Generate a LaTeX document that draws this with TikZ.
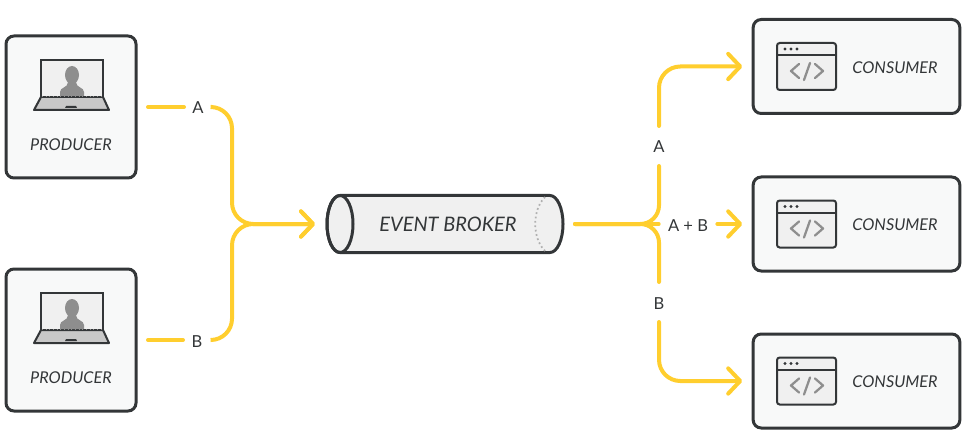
\documentclass[tikz,border=0pt]{standalone}
\usepackage{fontspec}
\setmainfont{Lato}
\usepackage{xcolor}
\usepackage{tikz}
\usetikzlibrary{arrows.meta}
\usetikzlibrary{positioning}
\definecolor{ink}{HTML}{333638}
\definecolor{flowline}{HTML}{FFCE2E}
\definecolor{panel}{HTML}{F8F9F9}
\definecolor{shade}{HTML}{F0F0F0}
\definecolor{midgray}{HTML}{8E8E8E}
\definecolor{keys}{HTML}{C8C8C8}
\tikzset{
box/.style = { rectangle, draw = ink, fill = panel, line width = 2.25pt, rounded corners = 6pt, outer sep = 0pt },
producer box/.style = { box, minimum width = 97.5pt, minimum height = 106.5pt },
consumer box/.style = { box, minimum width = 155pt, minimum height = 70.5pt },
caption/.style = { text = ink, font = \fontsize{12.2}{14}\selectfont\itshape, inner sep = 0pt, text height = 10.4pt, text depth = 0pt },
tag/.style = { text = ink, font = \fontsize{12.4}{14}\selectfont, inner sep = 0pt, outer sep = 0pt, text height = 10.5pt, text depth = 0pt },
flow/.style = { draw = flowline, line width = 3pt, line cap = round },
flow tip/.style = { flow, -{Straight Barb[length = 9pt, width = 19pt, round]}, shorten > = 8.25pt },
}
\tikzset{
pics/laptop/.style = {
        code = {
        \path[draw = ink, fill = keys, line width = 1.5pt, line join = round] (-30, -10) -- (-37, 3) -- (38, 3) -- (32, -10) -- cycle;
        \path[draw = ink, fill = shade, line width = 1.5pt] (-30, -47) rectangle (32, -10);
        \path[fill = midgray] (1, -32) ellipse [x radius = 7, y radius = 9];
        \path[fill = midgray] (-11, -11) -- (-11, -15) .. controls (-11, -20) and (-3, -19) .. (-3, -25) -- (5, -25) .. controls (5, -19) and (13, -20) .. (13, -15) -- (13, -11) -- cycle;
        \path[draw = midgray, line width = .75pt, dotted] (-29, -10.5) -- (31, -10.5);
        \path[fill = ink] (-6, 1) -- (-5, -1) -- (5, -1) -- (6, 1) -- cycle;
        }
    },
pics/browser/.style = {
        code = {
        \path[draw = ink, fill = shade, line width = 1.5pt, rounded corners = 2pt] (-79.5, -23.5) rectangle (-20.5, 23.5);
        \path[draw = ink, line width = 1.5pt] (-79.5, -11.5) -- (-20.5, -11.5);
        \path[fill = ink] (-71.5, -17.5) circle [radius = 1.6];
        \path[fill = ink] (-65.5, -17.5) circle [radius = 1.6];
        \path[fill = ink] (-59.5, -17.5) circle [radius = 1.6];
        \path[draw = midgray, line width = 1.7pt, line cap = round, line join = round] (-57.5, -2.5) -- (-65.5, 4.5) -- (-57.5, 11.5);
        \path[draw = midgray, line width = 1.7pt, line cap = round] (-46.5, -3.5) -- (-52.5, 13.5);
        \path[draw = midgray, line width = 1.7pt, line cap = round, line join = round] (-41.5, -2.5) -- (-33.5, 4.5) -- (-41.5, 11.5);
        }
    },
pics/tube/.style = {
        code = {
        \path[draw = ink, fill = shade, line width = 2.25pt] (-105, -28.5) -- (105, -28.5) arc [start angle = -90, end angle = 90, x radius = 13, y radius = 28.5] -- (-105, 28.5) arc [start angle = 90, end angle = 270, x radius = 13, y radius = 28.5] -- cycle;
        \path[draw = ink, line width = 2.25pt] (-105, 0) ellipse [x radius = 13, y radius = 28.5];
        \path[draw = midgray!70, line width = 1.3pt, dotted] (100, -27) .. controls (87, -14) and (87, 14) .. (100, 27);
        }
    },
}
\begin{document}
\begin{tikzpicture}[x = .75pt, y = -.75pt]
    \useasboundingbox (0, 0) rectangle (967, 442);
    % producers
    \node[producer box] (producer a) at (71, 107) {};
    \node[producer box] (producer b) at (71, 340) {};
    \draw pic at (71, 107) {laptop};
    \draw pic at (71, 340) {laptop};
    \node[caption] (producer a text) at (71, 144) {PRODUCER};
    \node[caption] (producer b text) at (71, 377) {PRODUCER};
    % broker
    \draw pic at (445, 224) {tube};
    \node[minimum width = 177pt, minimum height = 42.75pt, inner sep = 0pt, outer sep = 0pt] (broker) at (445, 224) {};
    \node[caption, font = \fontsize{15}{17}\selectfont\itshape, text height = 10.8pt] (broker text) at (448, 224) {EVENT BROKER};
    % consumers
    \node[consumer box] (consumer a) at (856.5, 66.5) {};
    \node[consumer box] (consumer b) at (856.5, 224) {};
    \node[consumer box] (consumer c) at (856.5, 381) {};
    \draw pic at (856.5, 66.5) {browser};
    \draw pic at (856.5, 224) {browser};
    \draw pic at (856.5, 381) {browser};
    \node[caption] (consumer a text) at (895, 67) {CONSUMER};
    \node[caption] (consumer b text) at (895, 224) {CONSUMER};
    \node[caption] (consumer c text) at (895, 381) {CONSUMER};
    % labels on the lines
    \node[tag, minimum width = 21pt] (tag a) at (198, 107) {A};
    \node[tag, minimum width = 21pt] (tag b) at (197, 340) {B};
    \node[tag, minimum height = 30pt] (tag up) at (659, 146) {A};
    \node[tag, minimum height = 30pt] (tag down) at (659, 302) {B};
    \node[tag, minimum width = 44pt] (tag sum) at (688, 224) {A + B};
    \coordinate (merge) at (232, 224);
    \coordinate (split) at (659, 224);
    % left side
    \draw[flow, shorten < = 9pt] (producer a) -- (tag a);
    \draw[flow, shorten < = 9pt] (producer b) -- (tag b);
    \draw[flow tip, shorten > = 9pt, rounded corners = 16pt] (tag a) -| (merge) -- (broker.west);
    \draw[flow tip, shorten > = 9pt, rounded corners = 16pt] (tag b) -| (merge) -- (broker.west);
    % right side
    \draw[flow, shorten < = 9pt] (broker.east) -- (tag sum);
    \draw[flow, rounded corners = 14pt, shorten > = 9pt] (tag up) -- (split) -- (broker.east);
    \draw[flow, rounded corners = 14pt, shorten > = 9pt] (tag down) -- (split) -- (broker.east);
    \draw[flow tip, rounded corners = 16pt] (tag up) |- (consumer a);
    \draw[flow tip] (tag sum) -- (consumer b);
    \draw[flow tip, rounded corners = 16pt] (tag down) |- (consumer c);
\end{tikzpicture}
\end{document}
